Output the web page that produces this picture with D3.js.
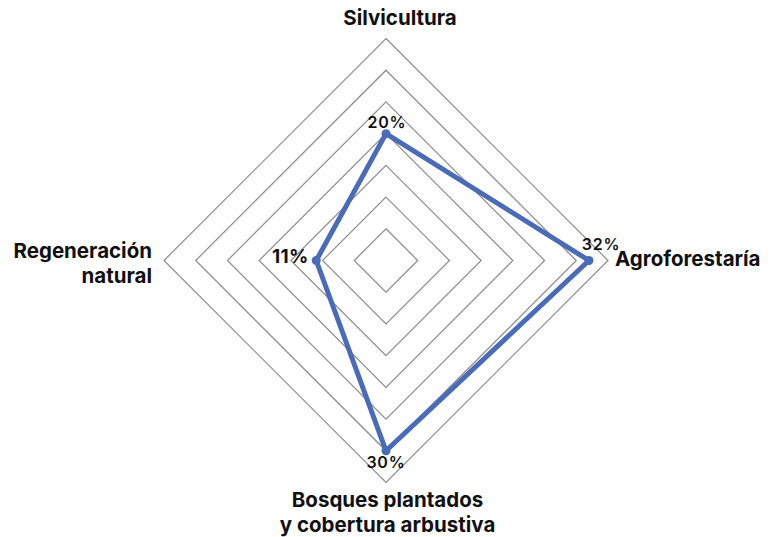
<!DOCTYPE html>
<html>
<head>
<meta charset="utf-8">
<script src="https://cdn.jsdelivr.net/npm/d3@7"></script>
<style>
  body { margin: 0; background: #fff; }
  text { font-family: Inter, "Noto Sans", sans-serif; fill: #111; }
</style>
</head>
<body>
<svg id="chart" width="774" height="537"></svg>
<script>
const categories = ["Silvicultura", "Agroforestaría", "Bosques plantados\ny cobertura arbustiva", "Regeneración\nnatural"];
const values = [20, 32, 30, 11];
const valueLabels = ["20%", "32%", "30%", "11%"];
const ringSteps = [5, 10, 15, 20, 25, 30, 35];

const width = 774, height = 537;
const cx = 386, cy = 260.5, radius = 222;

const svg = d3.select("#chart");

const r = d3.scaleLinear().domain([0, 35]).range([0, radius]);
const angle = d3.scalePoint().domain(d3.range(categories.length)).range([0, 2 * Math.PI * 3 / 4]);

const g = svg.append("g").attr("transform", `translate(${cx},${cy})`);

const radial = d3.lineRadial()
  .angle((d, i) => angle(i))
  .radius(d => r(d))
  .curve(d3.curveLinearClosed);

// grid rings
g.selectAll(".ring")
  .data(ringSteps)
  .join("path")
  .attr("class", "ring")
  .attr("d", s => radial(categories.map(() => s)))
  .attr("fill", "none")
  .attr("stroke", "#8c8c8c")
  .attr("stroke-width", 1.2);

// data polygon
g.append("path")
  .datum(values)
  .attr("d", radial)
  .attr("fill", "none")
  .attr("stroke", "#4a6bb7")
  .attr("stroke-width", 5)
  .attr("stroke-linejoin", "round");

const pt = (v, i) => {
  const a = angle(i);
  return [Math.sin(a) * r(v), -Math.cos(a) * r(v)];
};

g.selectAll(".dot")
  .data(values)
  .join("circle")
  .attr("class", "dot")
  .attr("cx", (d, i) => pt(d, i)[0])
  .attr("cy", (d, i) => pt(d, i)[1])
  .attr("r", 4.5)
  .attr("fill", "#4a6bb7");

// value labels (the small one is drawn bigger in the original)
const valOffsets = [[1, -5.5], [12, -11], [0, 17], [-26, 2.5]];
const valSizes = [16, 16, 16, 19];
g.selectAll(".val")
  .data(values)
  .join("text")
  .attr("class", "val")
  .attr("x", (d, i) => pt(d, i)[0] + valOffsets[i][0])
  .attr("y", (d, i) => pt(d, i)[1] + valOffsets[i][1])
  .attr("text-anchor", "middle")
  .attr("font-size", (d, i) => valSizes[i])
  .attr("font-weight", (d, i) => i === 3 ? 700 : 600)
  .attr("letter-spacing", (d, i) => i === 3 ? 0.3 : 0.8)
  .text((d, i) => valueLabels[i]);

// category labels
const catPos = [
  { x: 14, y: -235.5, anchor: "middle" },
  { x: 229, y: 5.5, anchor: "start" },
  { x: 1.5, y: 246.5, anchor: "middle" },
  { x: -234, y: -2.5, anchor: "end" }
];
categories.forEach((c, i) => {
  const t = g.append("text")
    .attr("x", catPos[i].x)
    .attr("y", catPos[i].y)
    .attr("text-anchor", catPos[i].anchor)
    .attr("font-size", 20.5)
    .attr("font-weight", 700);
  c.split("\n").forEach((line, j) => {
    t.append("tspan").attr("x", catPos[i].x).attr("dy", j ? 25 : 0).text(line);
  });
});
</script>
</body>
</html>
